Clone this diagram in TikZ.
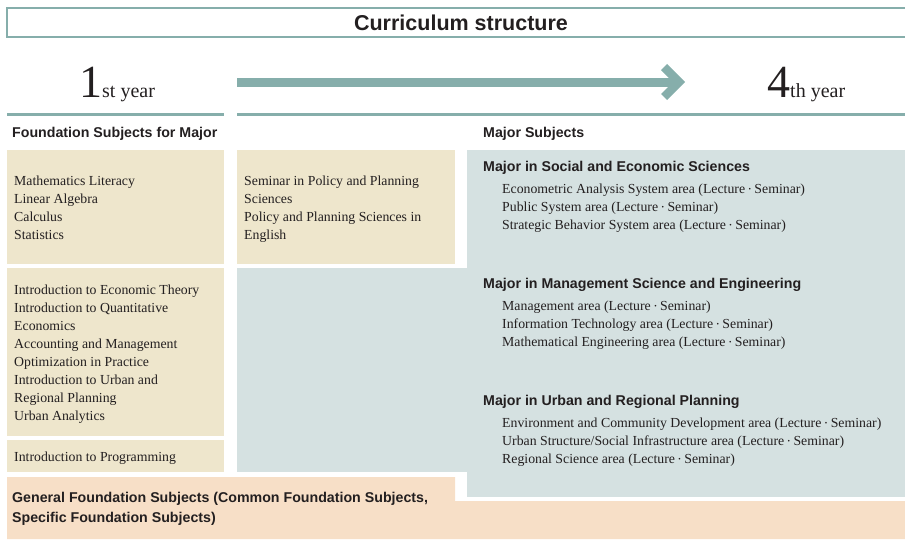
\documentclass[tikz,border=0pt]{standalone}
\usepackage{fontspec}
\setmainfont{Liberation Serif}
\setsansfont{Liberation Sans}
\definecolor{teal}{HTML}{86AEAB}
\definecolor{beige}{HTML}{EEE6CC}
\definecolor{paleblue}{HTML}{D5E1E1}
\definecolor{peach}{HTML}{F7DFC7}
\definecolor{ink}{HTML}{231F20}
\newcommand\mdot{{\fontsize{7}{7}\selectfont\raisebox{0.35ex}{•}}}
% multi-line nodes below are placed by the baseline of their last line
\begin{document}
\begin{tikzpicture}[x=1pt,y=-1pt,
  body/.style={font=\fontsize{13.8}{18}\selectfont, text=ink, align=left, inner sep=0pt, anchor=base west},
  head/.style={font=\sffamily\bfseries\fontsize{14.2}{20}\selectfont, text=ink, align=left, inner sep=0pt, anchor=base west},
  year/.style={text=ink, inner sep=0pt, anchor=base west},
  rule/.style={draw=teal, line width=3pt}]
\useasboundingbox (0,0) rectangle (905,539);
\clip (0,0) rectangle (905,539);

% title frame
\draw[teal, line width=2.5pt] (7,8) rectangle (915,37);
\node[font=\sffamily\bfseries\fontsize{21.5}{21.5}\selectfont, text=ink] (title) at (461,22.5) {Curriculum structure};

% year labels and progression arrow
\node[year] (y1) at (79,97) {{\fontsize{46}{46}\selectfont 1}{\fontsize{20}{20}\selectfont st year}};
\node[year] (y4) at (767,97) {{\fontsize{46}{46}\selectfont 4}{\fontsize{20}{20}\selectfont th year}};
\fill[teal] (237,78) rectangle (679,86.5);
\draw[teal, line width=8.5pt, line join=miter] (664,67) -- (679,82) -- (664,97);

% rules under the years
\draw[rule] (7,114.5) -- (224,114.5);
\draw[rule] (237,114.5) -- (905,114.5);

% column headings
\node[head] (hfound) at (12,137) {Foundation Subjects for Major};
\node[head] (hmajor) at (483,137) {Major Subjects};

% background blocks
\fill[beige] (7,150) rectangle (224,264);
\fill[beige] (7,268) rectangle (224,436);
\fill[beige] (7,440) rectangle (224,472);
\fill[beige] (237,150) rectangle (455,264);
\fill[paleblue] (467,150) rectangle (905,497);
\fill[paleblue] (237,268) rectangle (467,472);
\fill[peach] (7,477) -- (455,477) -- (455,501) -- (905,501) -- (905,539) -- (7,539) -- cycle;

% foundation subjects
\node[body] (math) at (14,239) {Mathematics Literacy\\Linear Algebra\\Calculus\\Statistics};
\node[body] (intro) at (14,420) {Introduction to Economic Theory\\Introduction to Quantitative\\Economics\\Accounting and Management\\Optimization in Practice\\Introduction to Urban and\\Regional Planning\\Urban Analytics};
\node[body] (prog) at (14,461) {Introduction to Programming};
\node[body] (sem) at (244,239) {Seminar in Policy and Planning\\Sciences\\Policy and Planning Sciences in\\English};

% majors
\node[head] (m1) at (483,171) {Major in Social and Economic Sciences};
\node[body] (m1list) at (502,229) {Econometric Analysis System area (Lecture \mdot{} Seminar)\\Public System area (Lecture \mdot{} Seminar)\\Strategic Behavior System area (Lecture \mdot{} Seminar)};
\node[head] (m2) at (483,288) {Major in Management Science and Engineering};
\node[body] (m2list) at (502,346) {Management area (Lecture \mdot{} Seminar)\\Information Technology area (Lecture \mdot{} Seminar)\\Mathematical Engineering area (Lecture \mdot{} Seminar)};
\node[head] (m3) at (483,405) {Major in Urban and Regional Planning};
\node[body] (m3list) at (502,463) {Environment and Community Development area (Lecture \mdot{} Seminar)\\Urban Structure/Social Infrastructure area (Lecture \mdot{} Seminar)\\Regional Science area (Lecture \mdot{} Seminar)};

% general foundation
\node[head] (gen) at (12,522) {General Foundation Subjects (Common Foundation Subjects,\\Specific Foundation Subjects)};
\end{tikzpicture}
\end{document}
